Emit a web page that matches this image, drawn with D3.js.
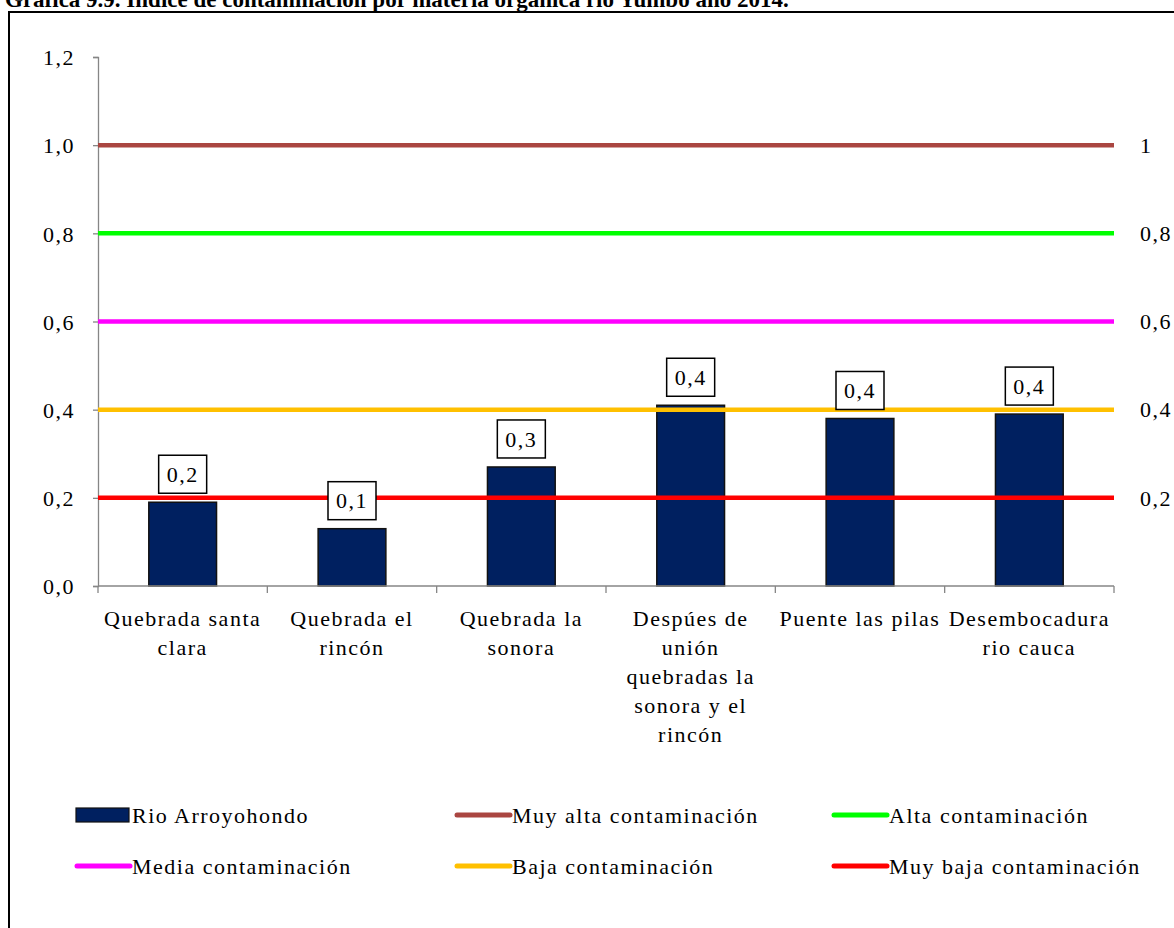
<!DOCTYPE html>
<html>
<head>
<meta charset="utf-8">
<script src="https://cdn.jsdelivr.net/npm/d3@7"></script>
<style>
  body { margin: 0; background: #fff; }
  text { font-family: "Liberation Serif", "Times New Roman", serif; fill: #000; }
</style>
</head>
<body>
<div id="chart"></div>
<script>
"use strict"

// data
let categories = ["Quebrada santa clara", "Quebrada el rincón", "Quebrada la sonora",
                  "Despúes de unión quebradas la sonora y el rincón", "Puente las pilas",
                  "Desembocadura rio cauca"];
let tickLines = [["Quebrada santa", "clara"], ["Quebrada el", "rincón"], ["Quebrada la", "sonora"],
                 ["Despúes de", "unión", "quebradas la", "sonora y el", "rincón"],
                 ["Puente las pilas"], ["Desembocadura", "rio cauca"]];
let barValues = [0.19, 0.13, 0.27, 0.41, 0.38, 0.39];
let barLabels = ["0,2", "0,1", "0,3", "0,4", "0,4", "0,4"];
let thresholdNames = ["Muy alta contaminación", "Alta contaminación", "Media contaminación",
                      "Baja contaminación", "Muy baja contaminación"];
let thresholdValues = [1.0, 0.8, 0.6, 0.4, 0.2];
let thresholdLabels = ["1", "0,8", "0,6", "0,4", "0,2"];
let thresholdColors = ["#aa4641", "#00ff00", "#ff00ff", "#ffc000", "#ff0000"];
let yTicks = [0, 0.2, 0.4, 0.6, 0.8, 1.0, 1.2];

let width = 1174;
let height = 928;
let plotLeft = 98, plotRight = 1114, plotTop = 57, plotBottom = 586;
let fontSize = 22;
let spacing = 1.5;

let svg = d3.select("#chart").append("svg")
    .attr("width", width)
    .attr("height", height);

// title, cut off at the top like in the scan
svg.append("text")
    .attr("x", 5)
    .attr("y", 7)
    .attr("font-size", 23)
    .attr("font-weight", "bold")
    .text("Gráfica 9.9. Índice de contaminación por materia orgánica río Yumbo año 2014.");

// frame around the chart
svg.append("rect")
    .attr("x", 9)
    .attr("y", 12)
    .attr("width", 1300)
    .attr("height", 1000)
    .attr("fill", "none")
    .attr("stroke", "#000")
    .attr("stroke-width", 2);

let x = d3.scaleBand().domain(categories).range([plotLeft, plotRight]).paddingInner(0.6).paddingOuter(0.3);
let xOuter = d3.scaleBand().domain(categories).range([plotLeft, plotRight]);
let y = d3.scaleLinear().domain([0, 1.2]).range([plotBottom, plotTop]);

// y axis
let yAxis = svg.append("g")
    .attr("transform", "translate(" + plotLeft + ",0)")
    .call(d3.axisLeft(y).tickValues(yTicks).tickSize(5).tickPadding(18)
        .tickFormat(d => d3.format(".1f")(d).replace(".", ",")));
yAxis.selectAll("path, line").attr("stroke", "#868686").attr("stroke-width", 1.3);
yAxis.selectAll("text")
    .attr("font-size", fontSize)
    .attr("font-family", "Liberation Serif")
    .attr("letter-spacing", spacing)
    .attr("dy", "0.35em");

// bars
svg.selectAll(".bar")
    .data(barValues)
    .enter().append("rect")
    .attr("x", (d, i) => x(categories[i]))
    .attr("y", d => y(d))
    .attr("width", x.bandwidth())
    .attr("height", d => y(0) - y(d))
    .attr("fill", "#002060")
    .attr("stroke", "#111")
    .attr("stroke-width", 1.5);

// x axis
let xAxis = svg.append("g")
    .attr("transform", "translate(0," + plotBottom + ")");
xAxis.append("line")
    .attr("x1", plotLeft).attr("x2", plotRight)
    .attr("stroke", "#868686").attr("stroke-width", 1.3);
xAxis.selectAll(".tick")
    .data(categories.concat(["end"]))
    .enter().append("line")
    .attr("x1", (d, i) => i < categories.length ? xOuter(d) : plotRight)
    .attr("x2", (d, i) => i < categories.length ? xOuter(d) : plotRight)
    .attr("y1", 0).attr("y2", 7)
    .attr("stroke", "#868686").attr("stroke-width", 1.3);

let catLabel = xAxis.selectAll(".cat")
    .data(tickLines)
    .enter().append("text")
    .attr("text-anchor", "middle")
    .attr("font-size", fontSize)
    .attr("letter-spacing", spacing);
catLabel.selectAll("tspan")
    .data((d, i) => d.map(t => ({ t: t, i: i })))
    .enter().append("tspan")
    .attr("x", d => xOuter(categories[d.i]) + xOuter.bandwidth() / 2)
    .attr("y", (d, j) => 40 + j * 29)
    .text(d => d.t);

// threshold lines with right side labels
svg.selectAll(".threshold")
    .data(thresholdValues)
    .enter().append("line")
    .attr("x1", plotLeft)
    .attr("x2", plotRight)
    .attr("y1", d => y(d))
    .attr("y2", d => y(d))
    .attr("stroke", (d, i) => thresholdColors[i])
    .attr("stroke-width", 4.5);

svg.selectAll(".rightLabel")
    .data(thresholdValues)
    .enter().append("text")
    .attr("x", 1140)
    .attr("y", d => y(d))
    .attr("dy", "0.35em")
    .attr("font-size", fontSize)
    .attr("letter-spacing", spacing)
    .text((d, i) => thresholdLabels[i]);

// value labels in boxes
let labelGroup = svg.selectAll(".valueLabel")
    .data(barValues)
    .enter().append("g")
    .attr("transform", (d, i) => "translate(" + (x(categories[i]) + x.bandwidth() / 2) + "," + (y(d) - 28) + ")");
labelGroup.append("rect")
    .attr("x", -24)
    .attr("y", -19)
    .attr("width", 48)
    .attr("height", 38)
    .attr("fill", "#fff")
    .attr("stroke", "#000")
    .attr("stroke-width", 1.5);
labelGroup.append("text")
    .attr("text-anchor", "middle")
    .attr("dy", "0.35em")
    .attr("font-size", fontSize)
    .attr("letter-spacing", spacing)
    .text((d, i) => barLabels[i]);

// legend
let legendItems = [{ name: "Rio Arroyohondo", kind: "bar", color: "#002060" }]
    .concat(thresholdNames.map((n, i) => ({ name: n, kind: "line", color: thresholdColors[i] })));
let legendX = [76, 456, 833];
let legendY = [815, 866];

let legend = svg.selectAll(".legend")
    .data(legendItems)
    .enter().append("g")
    .attr("transform", (d, i) => "translate(" + legendX[i % 3] + "," + legendY[Math.floor(i / 3)] + ")");
legend.filter(d => d.kind == "bar").append("rect")
    .attr("x", 0).attr("y", -7)
    .attr("width", 53).attr("height", 14)
    .attr("fill", d => d.color)
    .attr("stroke", "#111").attr("stroke-width", 1.2);
legend.filter(d => d.kind == "line").append("line")
    .attr("x1", 1).attr("x2", 54)
    .attr("stroke", d => d.color)
    .attr("stroke-width", 5)
    .attr("stroke-linecap", "round");
legend.append("text")
    .attr("x", 56)
    .attr("dy", "0.35em")
    .attr("font-size", fontSize)
    .attr("letter-spacing", spacing)
    .text(d => d.name);
</script>
</body>
</html>
